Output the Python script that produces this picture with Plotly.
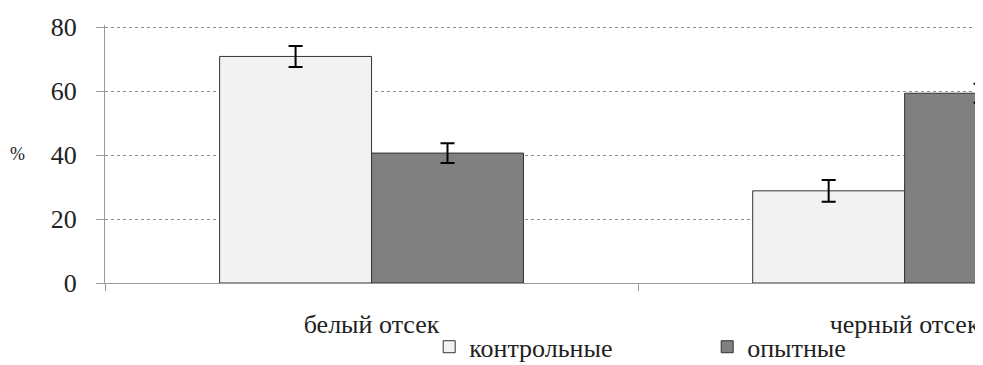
import plotly.graph_objects as go

categories = ["белый отсек", "черный отсек"]
series_names = ["контрольные", "опытные"]
control_values = [70.8, 28.8]
control_err = [3.3, 3.4]
exp_values = [40.6, 59.3]
exp_err = [3.1, 3.0]
y_ticks = [0, 20, 40, 60, 80]

FONT = "Liberation Serif, Times New Roman, serif"

fig = go.Figure()
fig.add_trace(go.Bar(
    x=categories, y=control_values, name=series_names[0],
    marker=dict(color="#f2f2f2", line=dict(color="#333333", width=1)),
    error_y=dict(type="data", array=control_err, color="#000000", thickness=2, width=7),
))
fig.add_trace(go.Bar(
    x=categories, y=exp_values, name=series_names[1],
    marker=dict(color="#808080", line=dict(color="#333333", width=1)),
    error_y=dict(type="data", array=exp_err, color="#000000", thickness=2, width=7),
))

fig.update_layout(
    width=975, height=372,
    margin=dict(l=97, r=0, t=17, b=97, autoexpand=False),
    paper_bgcolor="white", plot_bgcolor="white",
    barmode="group", bargap=0.43, bargroupgap=0,
    font=dict(family=FONT, size=26, color="#222222"),
    showlegend=True,
    legend=dict(orientation="h", xref="container", yref="container",
                x=0.432, xanchor="left", y=0.026, yanchor="bottom",
                bgcolor="rgba(0,0,0,0)",
                font=dict(family=FONT, size=26), entrywidth=233,
                itemwidth=30, traceorder="normal", tracegroupgap=0),
)
fig.update_xaxes(
    type="category", range=[-0.5, 1.147], automargin=False,
    showline=True, linecolor="#999999", linewidth=1,
    ticks="outside", tickson="boundaries", ticklen=7, tickcolor="#999999",
    ticklabelstandoff=18, showgrid=False,
    tickfont=dict(family=FONT, size=26),
)
fig.update_yaxes(
    range=[0, 80.625], tickvals=y_ticks, automargin=False,
    showline=True, linecolor="#999999", linewidth=1,
    ticks="outside", ticklen=8, tickcolor="#999999",
    ticklabelstandoff=14,
    showgrid=True, gridcolor="#8c8c8c", gridwidth=1, griddash="dot",
    zeroline=False,
    tickfont=dict(family=FONT, size=26),
)
fig.add_annotation(text="%", xref="paper", yref="paper", x=-0.1, y=0.5,
                   xanchor="center", yanchor="middle", showarrow=False,
                   font=dict(family=FONT, size=18))

fig.write_html("out.html")
